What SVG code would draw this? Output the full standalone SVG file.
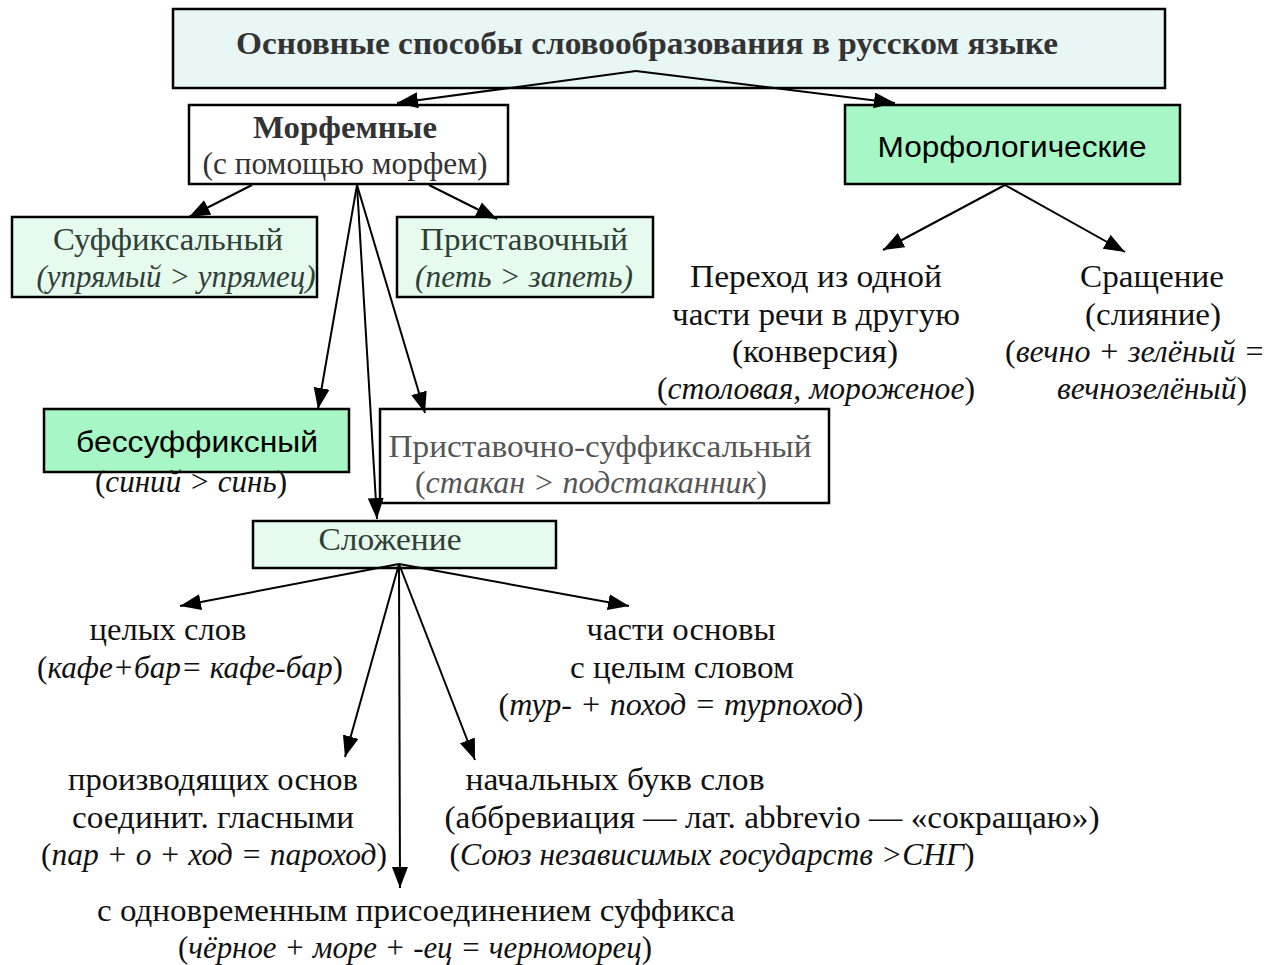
<svg xmlns="http://www.w3.org/2000/svg" width="1266" height="965" viewBox="0 0 1266 965">
<style>
text{font-family:"Liberation Serif","Times New Roman",serif;font-size:31px;fill:#111}
.b{font-weight:bold;fill:#333}
.s{font-family:"Liberation Sans",Arial,sans-serif;font-size:30px;fill:#000}
.g{fill:#2f3f36}
.grey{fill:#555}
.i{font-style:italic}
.box{stroke:#000;stroke-width:2.5}
.cyan{fill:#e9f6f6}
.lg{fill:#e6fbee}
.mg{fill:#a6f6c6}
.w{fill:#fff}
.c line{stroke:#000;stroke-width:2;fill:none;marker-end:url(#ah)}
</style>
<defs>
<marker id="ah" markerUnits="userSpaceOnUse" markerWidth="24" markerHeight="18" refX="21" refY="8" orient="auto">
<path d="M0,0 L21,8 L0,16 Z" fill="#000"/>
</marker>
</defs>
<rect width="1266" height="965" fill="#fff"/>

<g id="title">
<rect class="box cyan" x="173" y="9" width="992" height="79"/>
<text class="b" x="647" y="54" text-anchor="middle" textLength="822" lengthAdjust="spacingAndGlyphs">Основные способы словообразования в русском языке</text>
</g>

<g id="morfemnye">
<rect class="box w" x="189" y="105" width="319" height="79"/>
<text class="b" x="345" y="138" text-anchor="middle" textLength="184" lengthAdjust="spacingAndGlyphs">Морфемные</text>
<text x="345" y="174" text-anchor="middle" style="fill:#333" textLength="285" lengthAdjust="spacingAndGlyphs">(с помощью морфем)</text>
</g>

<g id="morfologicheskie">
<rect class="box mg" x="845" y="105" width="335" height="79"/>
<text class="s" x="1012" y="157" text-anchor="middle" textLength="269" lengthAdjust="spacingAndGlyphs">Морфологические</text>
</g>

<g id="suffiksalnyj">
<rect class="box lg" x="12" y="217" width="305" height="80"/>
<text class="g" x="168" y="250" text-anchor="middle" textLength="230" lengthAdjust="spacingAndGlyphs">Суффиксальный</text>
<text class="g i" x="176" y="287" text-anchor="middle" textLength="279" lengthAdjust="spacingAndGlyphs">(упрямый &gt; упрямец)</text>
</g>

<g id="pristavochnyj">
<rect class="box lg" x="397" y="217" width="256" height="80"/>
<text class="g" x="524" y="250" text-anchor="middle" textLength="208" lengthAdjust="spacingAndGlyphs">Приставочный</text>
<text class="g i" x="524" y="287" text-anchor="middle" textLength="218" lengthAdjust="spacingAndGlyphs">(петь &gt; запеть)</text>
</g>

<g id="bessuffiksnyj">
<rect class="box mg" x="44" y="409" width="305" height="63"/>
<text class="s" x="197" y="452" text-anchor="middle" textLength="242" lengthAdjust="spacingAndGlyphs">бессуффиксный</text>
<text x="191" y="492" text-anchor="middle" textLength="192" lengthAdjust="spacingAndGlyphs">(<tspan class="i">синий &gt; синь</tspan>)</text>
</g>

<g id="pristavochno-suffiksalnyj">
<rect class="box w" x="380" y="409" width="449" height="94"/>
<text class="grey" x="600" y="457" text-anchor="middle" textLength="423" lengthAdjust="spacingAndGlyphs">Приставочно-суффиксальный</text>
<text class="grey" x="591" y="493" text-anchor="middle" textLength="352" lengthAdjust="spacingAndGlyphs">(<tspan class="i">стакан &gt; подстаканник</tspan>)</text>
</g>

<g id="slozhenie">
<rect class="box lg" x="253" y="521" width="303" height="47"/>
<text class="g" x="390" y="550" text-anchor="middle" textLength="143" lengthAdjust="spacingAndGlyphs">Сложение</text>
</g>

<g id="perehod">
<text x="816" y="287" text-anchor="middle" textLength="252" lengthAdjust="spacingAndGlyphs">Переход из одной</text>
<text x="816" y="325" text-anchor="middle" textLength="288" lengthAdjust="spacingAndGlyphs">части речи в другую</text>
<text x="815" y="362" text-anchor="middle" textLength="166" lengthAdjust="spacingAndGlyphs">(конверсия)</text>
<text x="816" y="399" text-anchor="middle" textLength="318" lengthAdjust="spacingAndGlyphs">(<tspan class="i">столовая, мороженое</tspan>)</text>
</g>

<g id="srashchenie">
<text x="1152" y="287" text-anchor="middle" textLength="144" lengthAdjust="spacingAndGlyphs">Сращение</text>
<text x="1153" y="325" text-anchor="middle" textLength="136" lengthAdjust="spacingAndGlyphs">(слияние)</text>
<text x="1135" y="362" text-anchor="middle" textLength="260" lengthAdjust="spacingAndGlyphs">(<tspan class="i">вечно + зелёный =</tspan></text>
<text x="1152" y="399" text-anchor="middle" textLength="190" lengthAdjust="spacingAndGlyphs"><tspan class="i">вечнозелёный</tspan>)</text>
</g>

<g id="celyh-slov">
<text x="168" y="640" text-anchor="middle" textLength="157" lengthAdjust="spacingAndGlyphs">целых слов</text>
<text x="190" y="678" text-anchor="middle" textLength="306" lengthAdjust="spacingAndGlyphs">(<tspan class="i">кафе+бар= кафе-бар</tspan>)</text>
</g>

<g id="chasti-osnovy">
<text x="681" y="640" text-anchor="middle" textLength="189" lengthAdjust="spacingAndGlyphs">части основы</text>
<text x="682" y="678" text-anchor="middle" textLength="224" lengthAdjust="spacingAndGlyphs">с целым словом</text>
<text x="681" y="715" text-anchor="middle" textLength="365" lengthAdjust="spacingAndGlyphs">(<tspan class="i">тур- + поход = турпоход</tspan>)</text>
</g>

<g id="proizvodyashchih">
<text x="213" y="790" text-anchor="middle" textLength="290" lengthAdjust="spacingAndGlyphs">производящих основ</text>
<text x="213" y="828" text-anchor="middle" textLength="282" lengthAdjust="spacingAndGlyphs">соединит. гласными</text>
<text x="214" y="865" text-anchor="middle" textLength="346" lengthAdjust="spacingAndGlyphs">(<tspan class="i">пар + о + ход = пароход</tspan>)</text>
</g>

<g id="nachalnyh">
<text x="615" y="790" text-anchor="middle" textLength="299" lengthAdjust="spacingAndGlyphs">начальных букв слов</text>
<text x="772" y="828" text-anchor="middle" textLength="655" lengthAdjust="spacingAndGlyphs">(аббревиация — лат. abbrevio — «сокращаю»)</text>
<text x="712" y="865" text-anchor="middle" textLength="525" lengthAdjust="spacingAndGlyphs">(<tspan class="i">Союз независимых государств &gt;СНГ</tspan>)</text>
</g>

<g id="s-odnovremennym">
<text x="416" y="921" text-anchor="middle" textLength="638" lengthAdjust="spacingAndGlyphs">с одновременным присоединением суффикса</text>
<text x="415" y="958" text-anchor="middle" textLength="474" lengthAdjust="spacingAndGlyphs">(<tspan class="i">чёрное + море + -ец = черноморец</tspan>)</text>
</g>

<g id="connectors" class="c">
<line x1="636" y1="71" x2="397" y2="103"/>
<line x1="636" y1="71" x2="895" y2="103"/>
<line x1="252" y1="185" x2="189" y2="217"/>
<line x1="429" y1="185" x2="497" y2="219"/>
<line x1="357" y1="185" x2="318" y2="409"/>
<line x1="357" y1="185" x2="377" y2="519"/>
<line x1="357" y1="185" x2="425" y2="413"/>
<line x1="1005" y1="185" x2="883" y2="250"/>
<line x1="1005" y1="185" x2="1125" y2="252"/>
<line x1="399" y1="564" x2="180" y2="606"/>
<line x1="399" y1="564" x2="629" y2="606"/>
<line x1="399" y1="564" x2="345" y2="757"/>
<line x1="399" y1="564" x2="400" y2="888"/>
<line x1="399" y1="564" x2="475" y2="760"/>
</g>
</svg>
